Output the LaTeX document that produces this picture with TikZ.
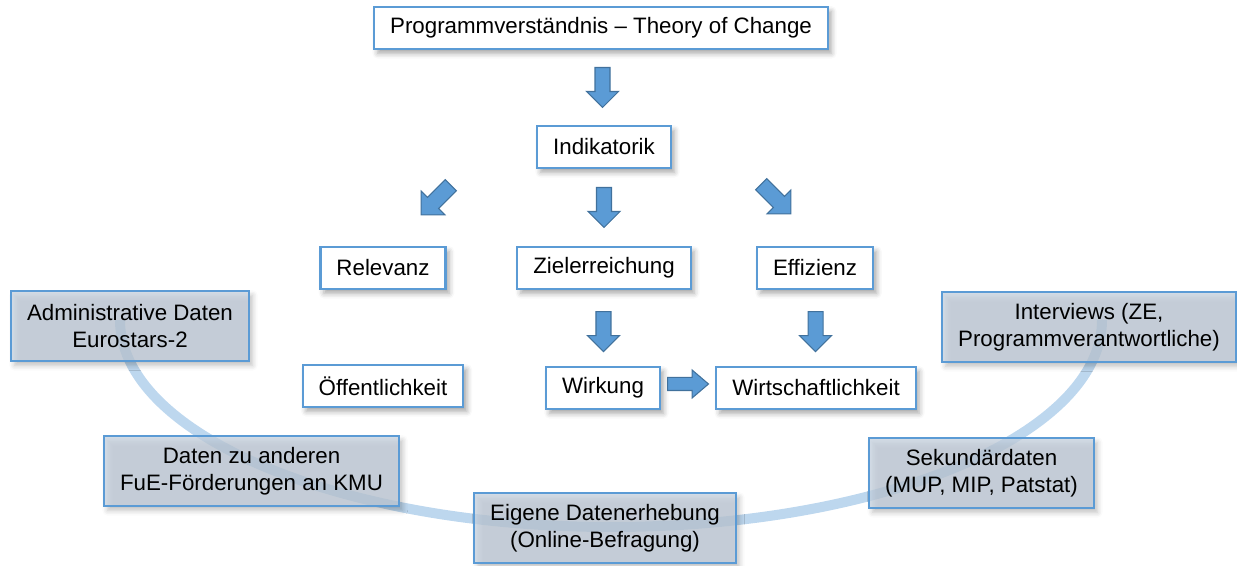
\documentclass[tikz,border=0pt]{standalone}
\usepackage{fontspec}
\setmainfont{Liberation Sans}
\usetikzlibrary{calc,shadows.blur}
\definecolor{boxblue}{RGB}{91,155,213}
\definecolor{arrowedge}{RGB}{65,113,156}
\definecolor{datafill}{RGB}{198,210,224}
\definecolor{arcblue}{RGB}{189,215,238}

\begin{document}
\begin{tikzpicture}[every node/.style={font=\fontsize{12.7}{15.5}\selectfont},
  plainbox/.style={draw=boxblue, line width=1.2pt, fill=white,
    inner xsep=0.32cm, minimum height=0.84cm,
    blur shadow={shadow xshift=2pt, shadow yshift=-2.5pt,
      shadow blur radius=3pt, shadow opacity=35}},
  databox/.style={plainbox, fill=datafill, fill opacity=0.72,
    text opacity=1, minimum height=1.4cm, align=center},
  blockarrow/.pic={
    \filldraw[draw=arrowedge, fill=boxblue, line width=0.6pt]
      (-0.4,-0.15) -- (0.08,-0.15) -- (0.08,-0.32) -- (0.4,0)
      -- (0.08,0.32) -- (0.08,0.15) -- (-0.4,0.15) -- cycle;},
  ]
  \useasboundingbox (0,0) rectangle (24.74,11.32);

  % arc behind the data sources
  \coordinate (arcL) at (2.40,4.92);
  \draw[arcblue, line width=0.2cm] (arcL)
    arc[start angle=180, end angle=360, x radius=9.82cm, y radius=4.14cm];

  % programme logic
  \node[plainbox] (prog) at (12.02,10.76) {Programmverständnis -- Theory of Change};
  \node[plainbox] (ind) at (12.08,8.38) {Indikatorik};
  \pic[rotate=-90] (a1) at ($(prog)!0.5!(ind)$) {blockarrow};

  % criteria
  \node[plainbox] (rel) at (7.66,5.96) {Relevanz};
  \node[plainbox] (ziel) at (12.08,5.96) {Zielerreichung};
  \node[plainbox] (eff) at (16.30,5.96) {Effizienz};
  \pic[rotate=-135, scale=1.05] (a2) at (8.72,7.32) {blockarrow};
  \pic[rotate=-90] (a3) at ($(ind)!0.5!(ziel)$) {blockarrow};
  \pic[rotate=-45, scale=1.05] (a4) at (15.52,7.34) {blockarrow};

  % second row
  \node[plainbox] (oeff) at (7.66,3.60) {Öffentlichkeit};
  \node[plainbox] (wirk) at (12.06,3.56) {Wirkung};
  \node[plainbox] (wirt) at (16.32,3.56) {Wirtschaftlichkeit};
  \pic[rotate=-90] (a5) at ($(ziel)!0.53!(wirk)$) {blockarrow};
  \pic[rotate=-90] (a6) at ($(eff)!0.53!(wirt)$) {blockarrow};
  \pic[xscale=1.02, yscale=0.87] (a7)
    at ($(wirk.east)!0.5!(wirt.west)+(0,0.08)$) {blockarrow};

  % data sources
  \node[databox] (adm) at (2.60,4.80) {Administrative Daten\\Eurostars-2};
  \node[databox] (intv) at (21.78,4.78) {Interviews (ZE,\\Programmverantwortliche)};
  \node[databox] (fue) at (5.03,1.90) {Daten zu anderen\\FuE-Förderungen an KMU};
  \node[databox] (eig) at (12.10,0.76) {Eigene Datenerhebung\\(Online-Befragung)};
  \node[databox] (sek) at (19.63,1.86) {Sekundärdaten\\(MUP, MIP, Patstat)};

\end{tikzpicture}
\end{document}
